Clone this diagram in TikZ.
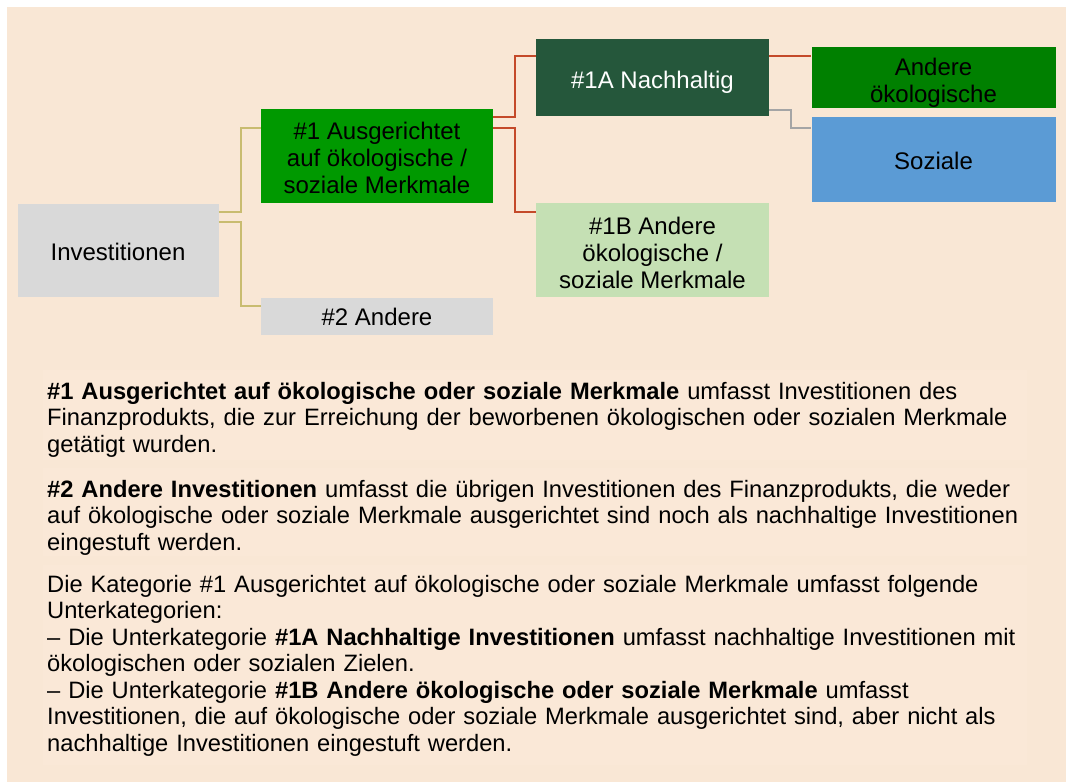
\documentclass[tikz,border=0pt]{standalone}
\usepackage{fontspec}
\setmainfont{Liberation Sans}
\definecolor{peach}{HTML}{F9E7D5}
\definecolor{paper}{HTML}{FAE8D7}
\definecolor{boxgray}{HTML}{D9D9D9}
\definecolor{brightgreen}{HTML}{009900}
\definecolor{darkgreen}{HTML}{25573B}
\definecolor{palegreen}{HTML}{C5E0B4}
\definecolor{midgreen}{HTML}{008000}
\definecolor{skyblue}{HTML}{5B9BD5}
\definecolor{khaki}{HTML}{C9BC70}
\definecolor{rust}{HTML}{C44A2A}
\definecolor{linegray}{HTML}{A5A5A5}
\newcommand{\topgap}[1]{\rule{0pt}{#1pt}}

\begin{document}
\begin{tikzpicture}[x=1pt, y=-1pt,
   every node/.style={inner sep=0pt, font=\fontsize{24}{27}\selectfont},
   box/.style={rectangle, minimum width=232pt, align=center},
   leaf/.style={rectangle, minimum width=244pt, align=center},
   link/.style={line width=2pt},
   para/.style={anchor=north west, text width=1010pt, align=left,
                font=\fontsize{23.7}{26.5}\selectfont}]

\useasboundingbox (0,0) rectangle (1073,782);
\fill[white] (0,0) rectangle (1073,782);
\fill[peach] (7,7) rectangle (1066,782);
\fill[paper] (43,370) rectangle (1027,460);
\fill[paper] (43,468) rectangle (1027,556);
\fill[paper] (43,565) rectangle (1027,765);

\node[box, fill=boxgray, minimum width=201pt, minimum height=93pt] (inv) at (118,250) {\topgap{21}Investitionen};
\node[box, fill=brightgreen, minimum height=94pt] (m1) at (377,156) {\topgap{21.5}\#1 Ausgerichtet\\auf ökologische /\\soziale Merkmale};
\node[box, fill=boxgray, minimum height=37pt] (m2) at (377,316) {\topgap{19.5}\#2 Andere};
\node[box, fill=darkgreen, text=white, minimum width=233pt, minimum height=77pt] (m1a) at (652.5,77.5) {\topgap{27.5}\#1A Nachhaltig};
\node[box, fill=palegreen, minimum width=233pt, minimum height=94pt] (m1b) at (652.5,250) {\topgap{23.5}\#1B Andere\\ökologische /\\soziale Merkmale};
\node[leaf, fill=midgreen, minimum height=61pt] (oeko) at (933.5,77.5) {\topgap{27.5}Andere\\ökologische};
\node[leaf, fill=skyblue, minimum height=85pt] (soz) at (933.5,159.5) {\topgap{20.5}Soziale};

\draw[link, khaki] ([yshift=38pt]inv.east) -- ++(22,0) |- ([yshift=28pt]m1.west);
\draw[link, khaki] ([yshift=28pt]inv.east) -- ++(22,0) |- ([yshift=10pt]m2.west);
\draw[link, rust] ([yshift=39pt]m1.east) -- ++(22,0) |- ([yshift=21.5pt]m1a.west);
\draw[link, rust] ([yshift=28pt]m1.east) -- ++(22,0) |- ([yshift=38pt]m1b.west);
\draw[link, rust] ([yshift=21.5pt]m1a.east) -- ([yshift=21.5pt]m1a.east -| oeko.west);
\draw[link, linegray] ([yshift=-32.5pt]m1a.east) -- ++(22,0) |- ([yshift=32pt]soz.west);

\node[para] (p1) at (47,382) {\textbf{\#1 Ausgerichtet auf ökologische oder soziale Merkmale} umfasst Investitionen des\\
Finanzprodukts, die zur Erreichung der beworbenen ökologischen oder sozialen Merkmale\\
getätigt wurden.};
\node[para] (p2) at (47,480) {\textbf{\#2 Andere Investitionen} umfasst die übrigen Investitionen des Finanzprodukts, die weder\\
auf ökologische oder soziale Merkmale ausgerichtet sind noch als nachhaltige Investitionen\\
eingestuft werden.};
\node[para] (p3) at (47,575) {Die Kategorie \#1 Ausgerichtet auf ökologische oder soziale Merkmale umfasst folgende\\
Unterkategorien:\\
– Die Unterkategorie \textbf{\#1A Nachhaltige Investitionen} umfasst nachhaltige Investitionen mit\\
ökologischen oder sozialen Zielen.\\
– Die Unterkategorie \textbf{\#1B Andere ökologische oder soziale Merkmale} umfasst\\
Investitionen, die auf ökologische oder soziale Merkmale ausgerichtet sind, aber nicht als\\
nachhaltige Investitionen eingestuft werden.};

\end{tikzpicture}
\end{document}
